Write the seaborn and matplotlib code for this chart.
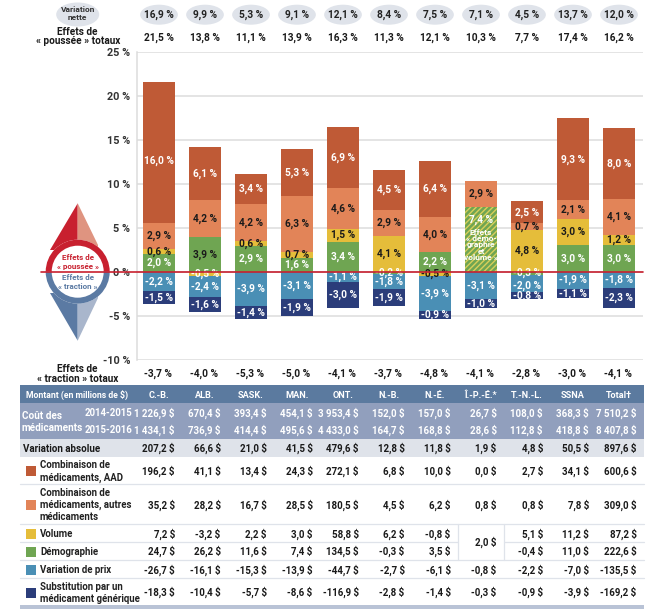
import numpy as np
import seaborn as sns
import matplotlib
matplotlib.use('Agg')
import matplotlib.pyplot as plt
from matplotlib.patches import Circle, Ellipse, Polygon, Rectangle, Wedge

provinces = ['C.-B.', 'ALB.', 'SASK.', 'MAN.', 'ONT.', 'N.-B.', 'N.-É.', 'Î.-P.-É.*', 'T.-N.-L.', 'SSNA', 'Total†']

# contributions in %
demographie = [2.0, 3.9, 2.9, 1.6, 3.4, -0.2, 2.2, 0.0, -0.3, 3.0, 3.0]
volume = [0.6, -0.5, 0.6, 0.7, 1.5, 4.1, -0.5, 0.0, 4.8, 3.0, 1.2]
demo_volume = [0, 0, 0, 0, 0, 0, 0, 7.4, 0, 0, 0]
autres = [2.9, 4.2, 4.2, 6.3, 4.6, 2.9, 4.0, 2.9, 0.7, 2.1, 4.1]
aad = [16.0, 6.1, 3.4, 5.3, 6.9, 4.5, 6.4, 0.0, 2.5, 9.3, 8.0]
prix = [-2.2, -2.4, -3.9, -3.1, -1.1, -1.8, -3.9, -3.1, -2.0, -1.9, -1.8]
generique = [-1.5, -1.6, -1.4, -1.9, -3.0, -1.9, -0.9, -1.0, -0.8, -1.1, -2.3]

variation_nette = ['16,9 %', '9,9 %', '5,3 %', '9,1 %', '12,1 %', '8,4 %', '7,5 %', '7,1 %', '4,5 %', '13,7 %', '12,0 %']
poussee_totaux = ['21,5 %', '13,8 %', '11,1 %', '13,9 %', '16,3 %', '11,3 %', '12,1 %', '10,3 %', '7,7 %', '17,4 %', '16,2 %']
traction_totaux = ['-3,7 %', '-4,0 %', '-5,3 %', '-5,0 %', '-4,1 %', '-3,7 %', '-4,8 %', '-4,1 %', '-2,8 %', '-3,0 %', '-4,1 %']

cout_2014 = ['1 226,9 $', '670,4 $', '393,4 $', '454,1 $', '3 953,4 $', '152,0 $', '157,0 $', '26,7 $', '108,0 $', '368,3 $', '7 510,2 $']
cout_2015 = ['1 434,1 $', '736,9 $', '414,4 $', '495,6 $', '4 433,0 $', '164,7 $', '168,8 $', '28,6 $', '112,8 $', '418,8 $', '8 407,8 $']
var_absolue = ['207,2 $', '66,6 $', '21,0 $', '41,5 $', '479,6 $', '12,8 $', '11,8 $', '1,9 $', '4,8 $', '50,5 $', '897,6 $']
mt_aad = ['196,2 $', '41,1 $', '13,4 $', '24,3 $', '272,1 $', '6,8 $', '10,0 $', '0,0 $', '2,7 $', '34,1 $', '600,6 $']
mt_autres = ['35,2 $', '28,2 $', '16,7 $', '28,5 $', '180,5 $', '4,5 $', '6,2 $', '0,8 $', '0,8 $', '7,8 $', '309,0 $']
mt_volume = ['7,2 $', '-3,2 $', '2,2 $', '3,0 $', '58,8 $', '6,2 $', '-0,8 $', '', '5,1 $', '11,2 $', '87,2 $']
mt_demo = ['24,7 $', '26,2 $', '11,6 $', '7,4 $', '134,5 $', '-0,3 $', '3,5 $', '', '-0,4 $', '11,0 $', '222,6 $']
mt_prix = ['-26,7 $', '-16,1 $', '-15,3 $', '-13,9 $', '-44,7 $', '-2,7 $', '-6,1 $', '-0,8 $', '-2,2 $', '-7,0 $', '-135,5 $']
mt_generique = ['-18,3 $', '-10,4 $', '-5,7 $', '-8,6 $', '-116,9 $', '-2,8 $', '-1,4 $', '-0,3 $', '-0,9 $', '-3,9 $', '-169,2 $']

C_AAD = '#bf5a36'
C_AUTRES = '#e28458'
C_VOLUME = '#e5bd3a'
C_DEMO = '#6fa552'
C_PRIX = '#4a8fb5'
C_GEN = '#2b3d7a'
C_RED = '#c8202f'
C_HEAD = '#5b7a9f'
C_COUT = '#919fbd'
C_PALE = '#dfe3ea'
C_TXT = '#1a1a1a'

sns.set_style('white')
plt.rcParams['font.family'] = ['Roboto', 'DejaVu Sans']
plt.rcParams['hatch.linewidth'] = 1.0

W, H = 650, 609
fig = plt.figure(figsize=(W / 100, H / 100), dpi=100)
ax = fig.add_axes([137 / W, 1 - 360 / H, 506 / W, 308.5 / H])

# stack order, bottom up
series = [
    (demographie, C_DEMO, 'white'),
    (volume, C_VOLUME, C_TXT),
    (demo_volume, C_DEMO, 'white'),
    (autres, C_AUTRES, C_TXT),
    (aad, C_AAD, 'white'),
    (prix, C_PRIX, 'white'),
    (generique, C_GEN, 'white'),
]
pos = np.zeros(len(provinces))
neg = np.zeros(len(provinces))
for vals, col, txtcol in series:
    hatched = vals is demo_volume
    vals = np.array(vals, dtype=float)
    bottom = np.where(vals >= 0, pos, neg)
    if hatched:
        kw = dict(hatch='//////', edgecolor='#d9cf5a')
    else:
        kw = dict(edgecolor=col)
    sns.barplot(x=provinces, y=vals, order=provinces, bottom=bottom, color=col, saturation=1,
                width=0.71, errorbar=None, linewidth=0, ax=ax, zorder=3, **kw)
    pos = pos + np.clip(vals, 0, None)
    neg = neg + np.clip(vals, None, 0)
    if hatched:
        continue
    labs = [f'{v:.1f} %'.replace('.', ',') if v != 0 else '' for v in vals]
    anns = ax.bar_label(ax.containers[-1], labels=labs, label_type='center', color=txtcol,
                        fontsize=7.3, fontweight='bold', zorder=5)
    if col == C_DEMO:
        anns[1].set_color(C_TXT)
    if col == C_VOLUME:
        anns[1].set_color('white')
    if col == C_AAD:
        # the 16,0 % sits a bit under the middle of its segment
        anns[0].xyann = (0, -5.5)
    if col == C_PRIX:
        anns[8].xyann = (0, -1.6)

# the hatched bar of Î.-P.-É. has its own wording
ax.text(7, 5.9, '7,4 %', color='white', fontsize=7.3, fontweight='bold', ha='center', va='center', zorder=5)
ax.text(7, 3.05, 'Effets\n« démo-\ngraphie\net\nvolume »', color='white', fontsize=6, fontweight='bold',
        ha='center', va='center', linespacing=0.88, zorder=5)

ax.set_xlim(-0.478, 10.52)
ax.set_ylim(-10, 25)
ax.set_yticks(range(-10, 30, 5))
ax.set_yticklabels([f'{v} %' for v in range(-10, 30, 5)], fontsize=7.8, fontweight='bold', color='#333333')
ax.set_xticks([])
ax.set_xlabel('')
ax.tick_params(axis='y', length=0, pad=5)
ax.grid(axis='y', color='#dcdcdc', linewidth=1.1, zorder=0)
ax.set_axisbelow(True)
sns.despine(ax=ax, top=True, right=True, bottom=True)
ax.spines['left'].set_color('#dcdcdc')
ax.spines['left'].set_linewidth(1.1)

# everything around the chart is placed in pixels on an overlay
ov = fig.add_axes([0, 0, 1, 1], zorder=10)
ov.set_xlim(0, W)
ov.set_ylim(H, 0)
ov.axis('off')
ov.patch.set_alpha(0)

cx = [159 + 46 * i for i in range(11)]
rx = [175, 220.7, 266.7, 312.7, 359, 404.7, 450.7, 496.7, 543, 589, 636.7]


def txt(x, y, s, size=7, color=C_TXT, ha='center', weight='bold', **kw):
    ov.text(x, y, s, fontsize=size, color=color, ha=ha, va='center', fontweight=weight, **kw)


# zero line
ov.plot([41, 643], [271.7, 271.7], color=C_RED, lw=1.2, zorder=4)

# top rows
ov.add_patch(Ellipse((77.7, 14.5), 43, 24, color=C_PALE, lw=0))
txt(77.7, 10, 'Variation', size=6, color='#333333')
txt(77.7, 18, 'nette', size=6, color='#333333')
txt(77.7, 31.7, 'Effets de', size=7.2)
txt(77.7, 40.7, '« poussée » totaux', size=7.2)
for x, a, b, c in zip(cx, variation_nette, poussee_totaux, traction_totaux):
    ov.add_patch(Ellipse((x, 14.7), 37.7, 20, color=C_PALE, lw=0))
    txt(x, 14.7, a, size=7.3, color='#222222')
    txt(x, 38.3, b, size=7.3)
    txt(x - 1, 374.3, c, size=7.3)
txt(77.7, 369, 'Effets de', size=7.2)
txt(77.7, 378.7, '« traction » totaux', size=7.2)

# compass
c0 = (77.7, 271.7)
ov.add_patch(Polygon([(77.7, 203.3), (50, 250), (77.7, 250)], color=C_RED, lw=0))
ov.add_patch(Polygon([(77.7, 203.3), (98, 245), (98, 250), (77.7, 250)], color='#df9480', lw=0))
ov.add_patch(Polygon([(77.7, 340.7), (50, 293), (77.7, 293)], color='#5b7aa3', lw=0))
ov.add_patch(Polygon([(77.7, 340.7), (98, 298), (98, 293), (77.7, 293)], color='#a9b6cc', lw=0))
ov.add_patch(Circle(c0, 32, color='white', lw=0))
ov.add_patch(Wedge(c0, 32, 180, 360, width=6, color=C_RED, lw=0))
ov.add_patch(Wedge(c0, 32, 0, 180, width=6, color='#5b7aa3', lw=0))
txt(77.7, 257.7, 'Effets de', size=5.8, color=C_RED)
txt(77.7, 266, '« poussée »', size=5.8, color=C_RED)
txt(77.7, 278, 'Effets de', size=5.8, color='#5b7aa3')
txt(77.7, 286.7, '« traction »', size=5.8, color='#5b7aa3')

# table bands
T0, T1 = 20, 644
for y0, y1, col in [(385.3, 402.7, C_HEAD), (402.7, 439.3, C_COUT), (439.3, 457.3, C_PALE), (604.7, 609, '#b9c3d6')]:
    ov.add_patch(Rectangle((T0, y0), T1 - T0, y1 - y0, color=col, lw=0))
for y in [484, 524, 560.3, 578.3]:
    ov.plot([T0, T1], [y, y], color=C_PALE, lw=0.9)
ov.plot([T0, 458], [542.3, 542.3], color=C_PALE, lw=0.9)
ov.plot([504.3, T1], [542.3, 542.3], color=C_PALE, lw=0.9)
ov.plot([458, 458], [524, 560.3], color=C_PALE, lw=0.9)
ov.plot([504.3, 504.3], [524, 560.3], color=C_PALE, lw=0.9)

txt(77.5, 395, 'Montant (en millions de $)', size=6.2, color='white')
for x, s in zip(cx, provinces):
    txt(x, 395, s, size=6.6, color='white')

txt(22, 415.7, 'Coût des', size=7.2, color='white', ha='left')
txt(22, 428, 'médicaments', size=7.2, color='white', ha='left')
txt(132.7, 413, '2014-2015', size=6.9, color='white', ha='right')
txt(132.7, 430, '2015-2016', size=6.9, color='white', ha='right')
txt(23, 448.7, 'Variation absolue', ha='left')

rows = [
    (cout_2014, 413, 'white'),
    (cout_2015, 430, 'white'),
    (var_absolue, 448.7, C_TXT),
    (mt_aad, 471.3, C_TXT),
    (mt_autres, 505, C_TXT),
    (mt_volume, 534, C_TXT),
    (mt_demo, 551.7, C_TXT),
    (mt_prix, 570, C_TXT),
    (mt_generique, 592.7, C_TXT),
]
for vals, y, col in rows:
    for x, s in zip(rx, vals):
        txt(x, y, s, color=col, ha='right')
txt(rx[7], 542.7, '2,0 $', ha='right')

legend_rows = [
    (C_AAD, 471.3, ['Combinaison de', 'médicaments, AAD']),
    (C_AUTRES, 505, ['Combinaison de', 'médicaments, autres', 'médicaments']),
    (C_VOLUME, 534, ['Volume']),
    (C_DEMO, 551.7, ['Démographie']),
    (C_PRIX, 570, ['Variation de prix']),
    (C_GEN, 592.7, ['Substitution par un', 'médicament générique']),
]
for col, y, lines in legend_rows:
    ov.add_patch(Rectangle((26, y - 5), 9.7, 10, color=col, lw=0))
    first = y - (len(lines) - 1) * 6.1
    for i, line in enumerate(lines):
        txt(40, first + i * 12.2, line, size=6.9, ha='left', color='#222222')

fig.savefig('out.png', dpi=100)
